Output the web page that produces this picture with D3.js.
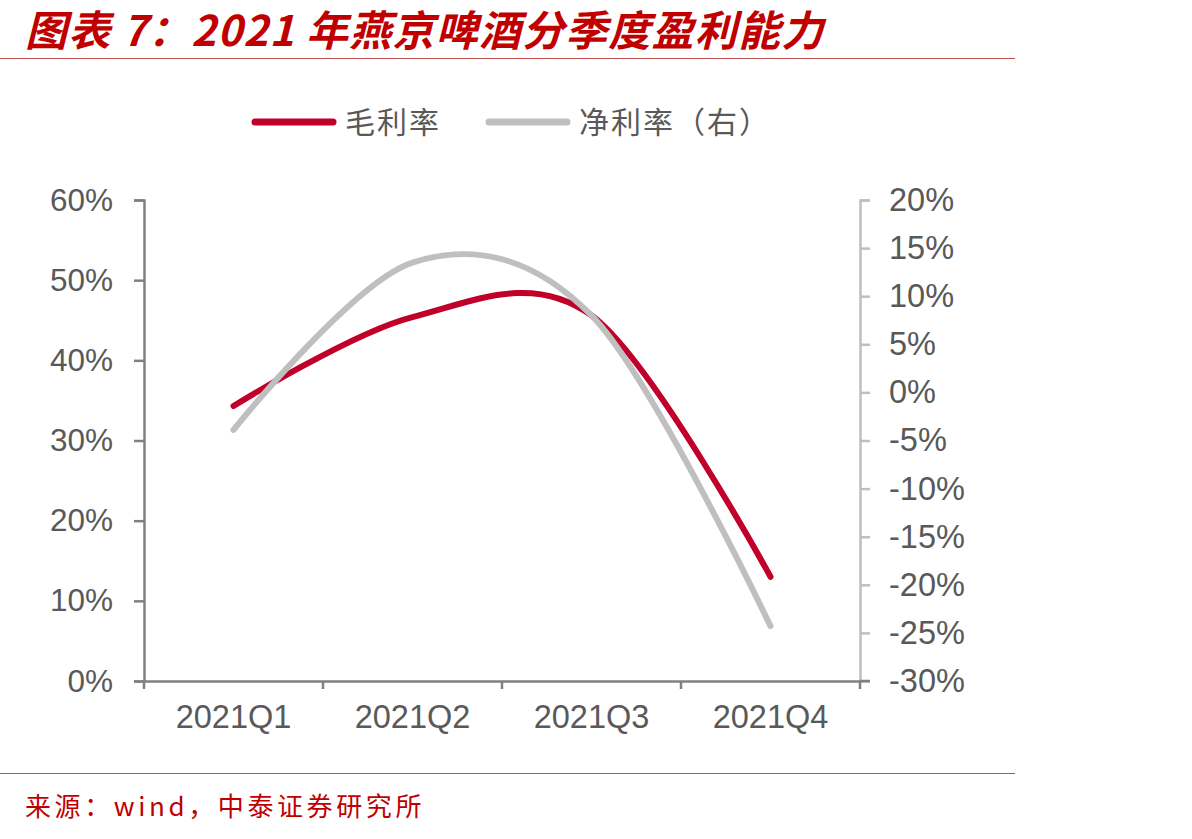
<!DOCTYPE html>
<html>
<head>
<meta charset="utf-8">
<script src="https://cdn.jsdelivr.net/npm/d3@7"></script>
<style>
  body { margin: 0; background: #fff; }
  svg { display: block; }
</style>
</head>
<body>
<div id="chart"></div>
<script>
const width = 1192, height = 839;

// data
const quarters = ['2021Q1', '2021Q2', '2021Q3', '2021Q4'];
const grossMargin = [34.3, 45.4, 45.6, 13.0];   // 毛利率, left axis
const netMargin = [-3.9, 13.5, 8.0, -24.3];     // 净利率, right axis
const leftTicks = [0, 10, 20, 30, 40, 50, 60];
const rightTicks = [-30, -25, -20, -15, -10, -5, 0, 5, 10, 15, 20];

const red = '#c0002b', grey = '#bfbfbf', textCol = '#595959';
const cjk = '"Noto Sans CJK SC", sans-serif';
const latin = '"Liberation Sans", Arial, sans-serif';

const plot = { left: 144, right: 860, top: 200, bottom: 681 };

const svg = d3.select('#chart').append('svg')
  .attr('width', width)
  .attr('height', height);

// title + rules
svg.append('text')
  .attr('x', 25).attr('y', 46)
  .attr('fill', '#c00000')
  .style('font-family', cjk)
  .style('font-weight', 'bold')
  .style('font-style', 'italic')
  .style('font-size', '42px')
  .style('letter-spacing', '1.2px')
  .text('图表 7：2021 年燕京啤酒分季度盈利能力');

svg.append('line')
  .attr('x1', 0).attr('x2', 1015).attr('y1', 58.5).attr('y2', 58.5)
  .attr('stroke', '#c0504d').attr('stroke-width', 1.2);
svg.append('line')
  .attr('x1', 0).attr('x2', 1015).attr('y1', 773.5).attr('y2', 773.5)
  .attr('stroke', '#c0504d').attr('stroke-width', 1.2);

svg.append('text')
  .attr('x', 25).attr('y', 816)
  .attr('fill', '#c00000')
  .style('font-family', cjk)
  .style('font-size', '26px')
  .style('letter-spacing', '3.6px')
  .text('来源：wind，中泰证券研究所');

// scales
const x = d3.scaleBand().domain(quarters).range([plot.left, plot.right]);
const yL = d3.scaleLinear().domain([0, 60]).range([plot.bottom, plot.top]);
const yR = d3.scaleLinear().domain([-30, 20]).range([plot.bottom, plot.top]);

// left axis
const leftAxis = svg.append('g')
  .attr('transform', `translate(${plot.left},0)`)
  .call(d3.axisLeft(yL).tickValues(leftTicks).tickFormat(d => d + '%').tickSize(10).tickPadding(21));
leftAxis.select('.domain').attr('stroke', '#808080').attr('stroke-width', 2.5);
leftAxis.selectAll('.tick line').attr('stroke', '#808080').attr('stroke-width', 2.5);
leftAxis.selectAll('.tick text')
  .attr('fill', textCol)
  .style('font-family', latin)
  .style('font-size', '31.5px');

// right axis
const rightAxis = svg.append('g')
  .attr('transform', `translate(${plot.right},0)`)
  .call(d3.axisRight(yR).tickValues(rightTicks).tickFormat(d => d + '%').tickSize(10));
rightAxis.select('.domain').attr('stroke', grey).attr('stroke-width', 2.5);
rightAxis.selectAll('.tick line').attr('stroke', grey).attr('stroke-width', 2.5);
rightAxis.selectAll('.tick text')
  .attr('x', 29)
  .attr('text-anchor', 'start')
  .attr('fill', textCol)
  .style('font-family', latin)
  .style('font-size', '32.5px');

// bottom axis
const bottomAxis = svg.append('g')
  .attr('transform', `translate(0,${plot.bottom})`)
  .call(d3.axisBottom(x).tickSize(0).tickPadding(24));
bottomAxis.select('.domain').attr('stroke', '#808080').attr('stroke-width', 2.5);
bottomAxis.selectAll('.tick text')
  .attr('fill', textCol)
  .style('font-family', latin)
  .style('font-size', '32.5px');
// boundary ticks between categories
const bounds = d3.range(quarters.length + 1).map(i => plot.left + i * x.step());
bottomAxis.selectAll('.bound')
  .data(bounds)
  .join('line')
  .attr('class', 'bound')
  .attr('x1', d => d).attr('x2', d => d)
  .attr('y1', 0).attr('y2', 8)
  .attr('stroke', '#808080').attr('stroke-width', 2.5);
bottomAxis.append('line')
  .attr('x1', plot.right).attr('x2', plot.right + 10)
  .attr('stroke', '#808080').attr('stroke-width', 2.5);

// lines
const cx = (d, i) => x(quarters[i]) + x.bandwidth() / 2;
const grossLine = d3.line().x(cx).y(d => yL(d)).curve(d3.curveCardinal.tension(0));
const netLine = d3.line().x(cx).y(d => yR(d)).curve(d3.curveCardinal.tension(0));

svg.append('path')
  .datum(grossMargin)
  .attr('d', grossLine)
  .attr('fill', 'none')
  .attr('stroke', red)
  .attr('stroke-width', 6)
  .attr('stroke-linecap', 'round');

svg.append('path')
  .datum(netMargin)
  .attr('d', netLine)
  .attr('fill', 'none')
  .attr('stroke', grey)
  .attr('stroke-width', 6)
  .attr('stroke-linecap', 'round');

// legend
const legend = [
  { label: '毛利率', color: red, x: 255 },
  { label: '净利率（右）', color: grey, x: 489 }
];
const lg = svg.selectAll('.legend')
  .data(legend)
  .join('g')
  .attr('class', 'legend')
  .attr('transform', d => `translate(${d.x},122)`);
lg.append('line')
  .attr('x1', 0).attr('x2', 78)
  .attr('stroke', d => d.color)
  .attr('stroke-width', 7)
  .attr('stroke-linecap', 'round');
lg.append('text')
  .attr('x', 90).attr('y', 11)
  .attr('fill', textCol)
  .style('font-family', cjk)
  .style('font-size', '30px')
  .style('letter-spacing', '2px')
  .text(d => d.label);
</script>
</body>
</html>
